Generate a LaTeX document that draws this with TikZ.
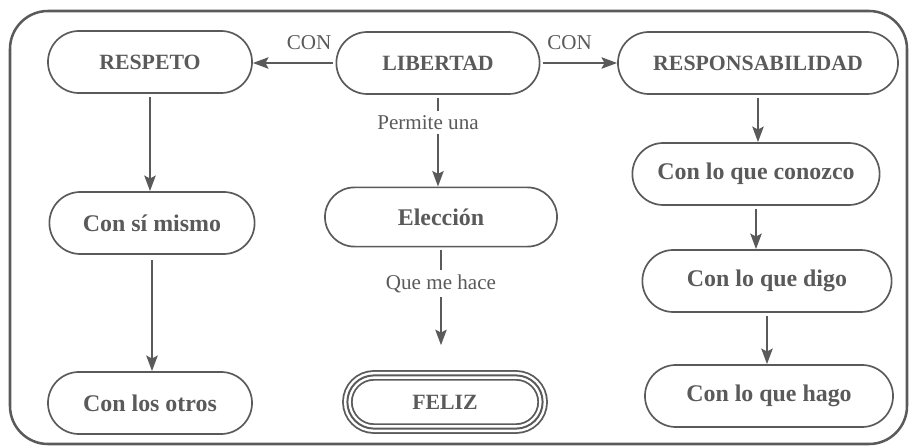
\documentclass[tikz,border=0pt]{standalone}
\usepackage{fontspec}
\setmainfont{Liberation Serif}
\usetikzlibrary{shapes.misc, arrows.meta}
\definecolor{tinta}{RGB}{90,90,90}

\begin{document}
\begin{tikzpicture}[x=0.025cm, y=-0.025cm]
    \tikzset{caja/.style={rounded rectangle, draw=tinta, line width=1.2pt, minimum height=1.55cm, inner sep=0pt, text=tinta, font=\bfseries\fontsize{17}{19}\selectfont},
             mayus/.style={font=\bfseries\fontsize{15.5}{17}\selectfont},
             doble/.style={preaction={draw=tinta, line width=7.5pt}, draw=white, line width=4.9pt, postaction={draw=tinta, line width=1.4pt}},
             flecha/.style={draw=tinta, line width=1.7pt, -{Stealth[length=11pt, width=8pt, inset=2pt]}, shorten <=2pt},
             etiqueta/.style={text=tinta, font=\fontsize{15}{17}\selectfont}}
    \useasboundingbox (0,0) rectangle (910,447);
    \draw[tinta, line width=1.8pt, rounded corners=27pt] (10,11) rectangle (907,444);
    % fila de arriba
    \node[caja, mayus, minimum width=5.1cm] (respeto) at (150,62) {RESPETO};
    \node[caja, mayus, minimum width=5.08cm] (libertad) at (438,63) {LIBERTAD};
    \node[caja, mayus, minimum width=7cm] (respons) at (758,63) {RESPONSABILIDAD};
    % columnas
    \node[caja, minimum width=5.13cm] (simismo) at (152,223) {Con sí mismo};
    \node[caja, minimum width=5.1cm] (otros) at (150,403) {Con los otros};
    \node[caja, minimum width=5.8cm, minimum height=1.48cm] (eleccion) at (441,217) {Elección};
    \node[caja, mayus, doble, minimum width=4.88cm, minimum height=1.33cm] (feliz) at (445,402) {FELIZ};
    \node[caja, minimum width=6.18cm] (conozco) at (756,174) {Con lo que conozco};
    \node[caja, minimum width=6.23cm] (digo) at (767,281) {Con lo que digo};
    \node[caja, minimum width=6.2cm] (hago) at (769,396) {Con lo que hago};
    \draw[flecha] (libertad.west) -- node[etiqueta, above=5pt, pos=0.32] (con1) {CON} (libertad.west -| respeto.east);
    \draw[flecha] (libertad.east) -- node[etiqueta, above=5pt, pos=0.38] (con2) {CON} (libertad.east -| respons.west);
    \draw[flecha] (respeto.south) -- (respeto.south |- simismo.north);
    \draw[flecha, shorten <=4pt] (simismo.south) -- (simismo.south |- otros.north);
    \draw[flecha] (libertad.south) -- node[etiqueta, fill=white, pos=0.3, xshift=-0.25cm] (permite) {Permite una} (libertad.south |- eleccion.north);
    \draw[flecha, shorten >=19pt] (eleccion.south) -- node[etiqueta, fill=white, pos=0.29] (hace) {Que me hace} (eleccion.south |- feliz.north);
    \draw[flecha] (respons.south) -- (respons.south |- conozco.north);
    \draw[flecha] (conozco.south) -- (conozco.south |- digo.north);
    \draw[flecha] (digo.south) -- (digo.south |- hago.north);
\end{tikzpicture}
\end{document}
